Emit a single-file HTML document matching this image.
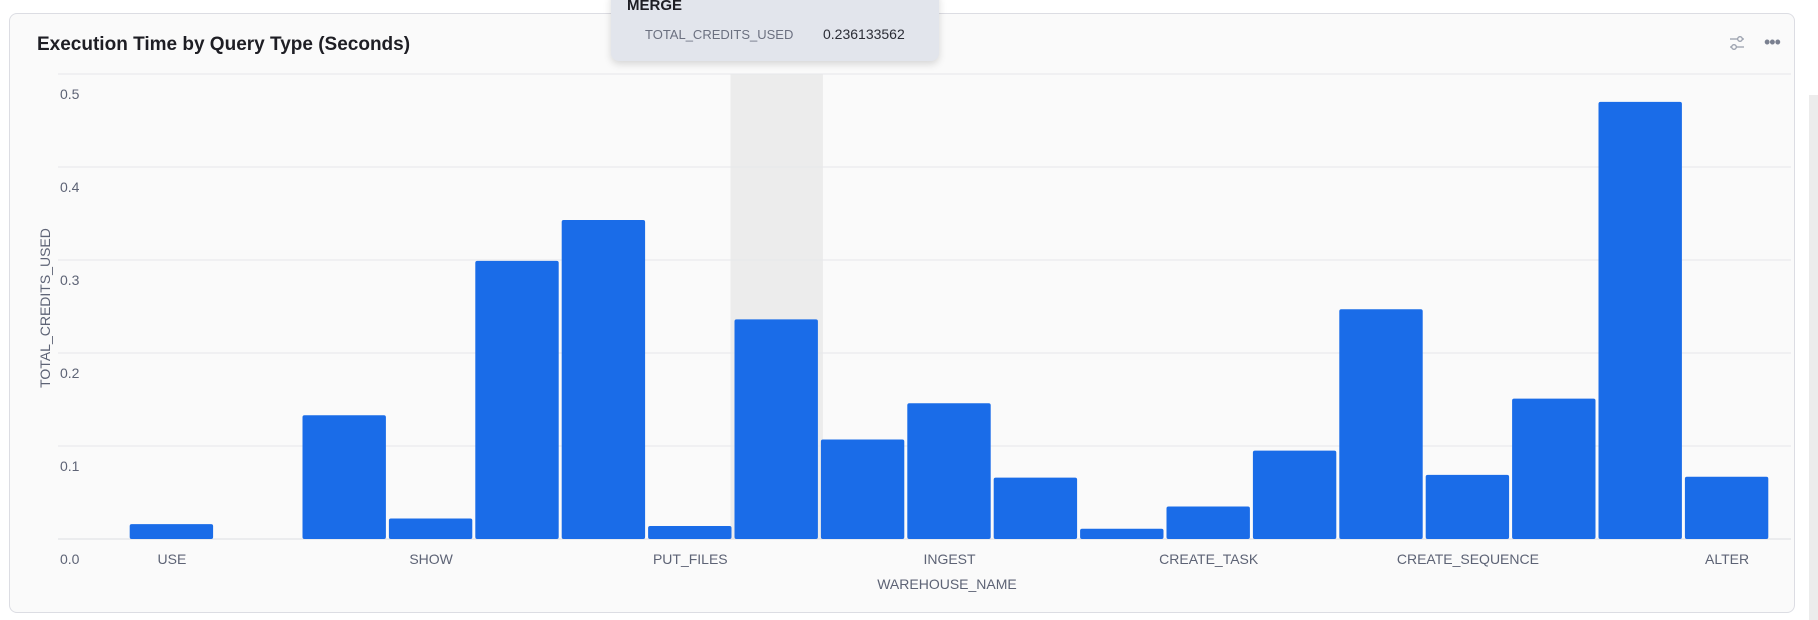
<!DOCTYPE html>
<html><head><meta charset="utf-8"><style>
body{margin:0;width:1818px;height:620px;background:#fff;font-family:"Liberation Sans",sans-serif;position:relative;overflow:hidden}
#card{position:absolute;left:9px;top:13px;width:1786px;height:600px;background:#fafafa;border:1px solid #dcdde3;border-radius:8px;box-sizing:border-box}
#title{position:absolute;left:37px;top:34px;font-size:19px;font-weight:bold;color:#1e1e24}
#tip{position:absolute;left:611px;top:-10px;width:328px;height:71px;background:#e2e5ec;border-radius:8px;box-shadow:0 3px 8px rgba(0,0,0,.15)}
#scroll{position:absolute;left:1809px;top:95px;width:9px;height:525px;background:#ececec}
</style></head><body>
<div id="card"></div>
<div id="title">Execution Time by Query Type (Seconds)</div>
<svg id="chart" width="1818" height="620" style="position:absolute;left:0;top:0"></svg>
<div id="tip">
<div style="position:absolute;left:16px;top:7px;font-weight:bold;font-size:15px;color:#1e1e24">MERGE</div>
<div style="position:absolute;left:34px;top:37px;font-size:13px;color:#6b7080">TOTAL_CREDITS_USED</div>
<div style="position:absolute;left:212px;top:36px;font-size:14px;color:#2b2d36">0.236133562</div>
</div>
<div style="position:absolute;left:1728px;top:34px;width:18px;height:18px">
<svg width="18" height="18"><line x1="2" y1="5" x2="16" y2="5" stroke="#9aa0ad" stroke-width="1.3"/><line x1="2" y1="13" x2="16" y2="13" stroke="#9aa0ad" stroke-width="1.3"/><circle cx="12" cy="5" r="2.3" fill="#fafafa" stroke="#9aa0ad" stroke-width="1.3"/><circle cx="6" cy="13" r="2.3" fill="#fafafa" stroke="#9aa0ad" stroke-width="1.3"/></svg></div>
<div style="position:absolute;left:1764px;top:32px;font-size:18px;color:#7a8090;letter-spacing:-1px">•••</div>
<div id="scroll"></div>
<script>
const categories=["USE","UNLOAD","TRUNCATE_TABLE","SHOW","SELECT","REVOKE","PUT_FILES","MERGE","LIST_FILES","INGEST","GRANT","DROP","CREATE_TASK","CREATE_TABLE_AS_SELECT","CREATE_TABLE","CREATE_SEQUENCE","CREATE","COPY","ALTER"];
const values=[0.016,0,0.133,0.022,0.299,0.343,0.014,0.236133562,0.107,0.146,0.066,0.011,0.035,0.095,0.247,0.069,0.151,0.470,0.067];
const yTicks=[0,0.1,0.2,0.3,0.4,0.5];
const yTickLabels=["0.0","0.1","0.2","0.3","0.4","0.5"];
const highlighted="MERGE";
const NS="http://www.w3.org/2000/svg";
const svg=document.getElementById('chart');
const base=539,pxPer=930,x0=128.7,slot=86.4;
function y(v){return base-v*pxPer;}
function x(i){return x0+i*slot;}
function mk(t,a){const e=document.createElementNS(NS,t);for(const k in a)e.setAttribute(k,a[k]);svg.appendChild(e);return e;}
const hi=categories.indexOf(highlighted);
if(hi>=0){const r=mk('rect',{x:x(hi)-3,y:74,width:slot+6,height:base-74,fill:'#ececec'});

}
yTicks.forEach((t,i)=>{
 const l=mk('line',{x1:58,x2:1791,y1:y(t),y2:y(t),stroke:i==0?'#dcdde3':'#e6e7ea','stroke-width':1});
 
 
 const tx=mk('text',{x:60,y:y(t)+25,'font-size':14,fill:'#5d6375','font-family':'Liberation Sans'});
 tx.textContent=yTickLabels[i];
 
 
});
values.forEach((v,i)=>{
 if(v<=0)return;
 const r=mk('rect',{x:x(i)+1,y:y(v),width:slot-3,height:base-y(v),fill:'#1a6ce8',rx:2});
 
 
});
categories.forEach((c,i)=>{
 if(i%3!==0)return;
 const t=mk('text',{x:x(i)+slot/2,y:564,'font-size':14,fill:'#5d6375','text-anchor':'middle','font-family':'Liberation Sans'});
 t.textContent=c;
 
 
});
const xt=mk('text',{x:947,y:589,'font-size':14,fill:'#5d6375','text-anchor':'middle','font-family':'Liberation Sans'});
xt.textContent='WAREHOUSE_NAME';


const yt=mk('text',{x:0,y:0,'font-size':14,fill:'#5d6375','text-anchor':'middle','font-family':'Liberation Sans',transform:'translate(50,308) rotate(-90)'});
yt.textContent='TOTAL_CREDITS_USED';


</script>
</body></html>
